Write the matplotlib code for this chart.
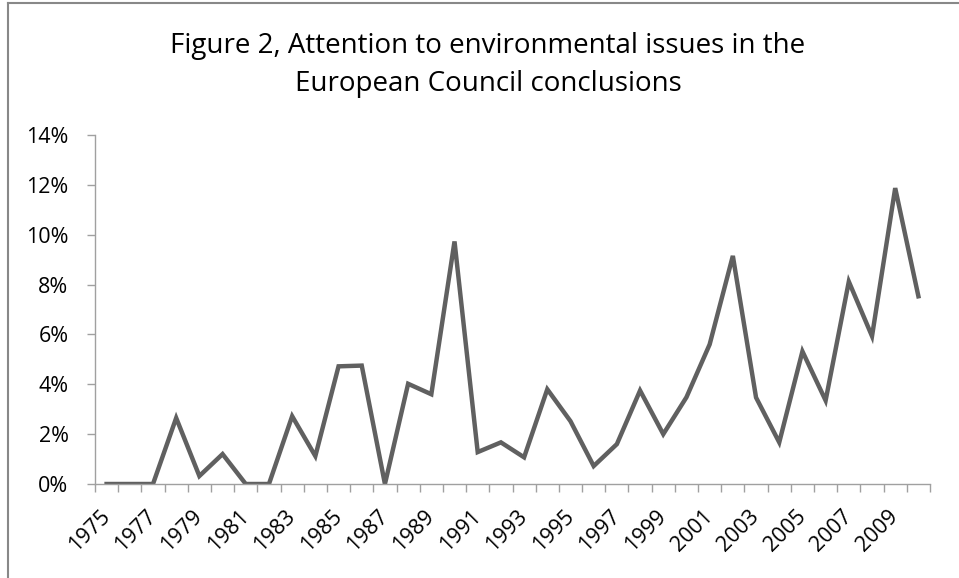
import matplotlib
matplotlib.use("Agg")
import matplotlib.pyplot as plt
from matplotlib.lines import Line2D
from matplotlib.ticker import FixedLocator, PercentFormatter

years = list(range(1975, 2011))
attention = [0.0, 0.0, 0.0, 2.65, 0.32, 1.2, 0.0, 0.0, 2.72, 1.12,
             4.72, 4.75, 0.0, 4.02, 3.6, 9.73, 1.28, 1.67, 1.07, 3.8,
             2.52, 0.72, 1.6, 3.75, 2.0, 3.48, 5.6, 9.15, 3.47, 1.67,
             5.32, 3.35, 8.12, 5.93, 11.87, 7.53]
yticks = [0, 2, 4, 6, 8, 10, 12, 14]
title = "Figure 2, Attention to environmental issues in the\nEuropean Council conclusions"

W, H = 959, 578
fig = plt.figure(figsize=(W / 100, H / 100), dpi=100)
plt.rcParams['font.family'] = ['Open Sans', 'DejaVu Sans']

left, right, top, bottom = 95, 930, 135, 484
ax = fig.add_axes([left / W, 1 - bottom / H, (right - left) / W, (bottom - top) / H])

x = list(range(len(years)))
ax.plot(x, attention, color='#606060', linewidth=3.2, solid_joinstyle='miter')

ax.set_xlim(-0.5, len(years) - 0.5)
ax.set_ylim(0, 14)
ax.yaxis.set_major_locator(FixedLocator(yticks))
ax.yaxis.set_major_formatter(PercentFormatter(decimals=0))

ax.set_xticks([i - 0.5 for i in range(len(years) + 1)])
ax.set_xticklabels([])
ax.set_xticks(x[::2], minor=True)
ax.set_xticklabels([str(y) for y in years[::2]], minor=True, rotation=45,
                   ha='right', va='center', rotation_mode='anchor', fontsize=15.5)
ax.tick_params(axis='x', which='minor', length=0, pad=21)
ax.tick_params(axis='x', which='major', length=6, color='#a0a0a0', width=1)
ax.tick_params(axis='y', length=6, color='#a0a0a0', width=1, labelsize=15.5, pad=13)

for s in ['top', 'right']:
    ax.spines[s].set_visible(False)
for s in ['left', 'bottom']:
    ax.spines[s].set_color('#a0a0a0')
    ax.spines[s].set_linewidth(1)

fig.text(488 / W, 1 - 65 / H, title, ha='center', va='center', fontsize=20,
         linespacing=1.5)

# outer frame (left and top edges visible)
fig.add_artist(Line2D([8 / W, 8 / W], [0, 1 - 3 / H], transform=fig.transFigure,
                      color='#888888', linewidth=1.5))
fig.add_artist(Line2D([8 / W, 1], [1 - 3 / H, 1 - 3 / H], transform=fig.transFigure,
                      color='#888888', linewidth=1.5))

fig.savefig('out.png', dpi=100)
